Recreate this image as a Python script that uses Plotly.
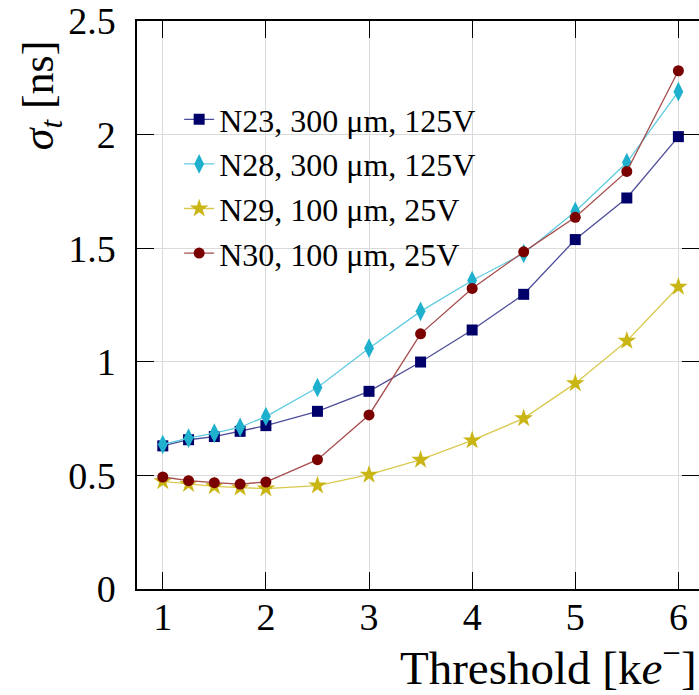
import plotly.graph_objects as go

thresholds = [1, 1.25, 1.5, 1.75, 2, 2.5, 3, 3.5, 4, 4.5, 5, 5.5, 6]
n23 = [0.630, 0.657, 0.671, 0.694, 0.719, 0.782, 0.870, 0.999, 1.140, 1.297, 1.538, 1.721, 1.991]
n28 = [0.636, 0.664, 0.686, 0.712, 0.759, 0.887, 1.060, 1.222, 1.358, 1.477, 1.662, 1.877, 2.189]
n29 = [0.474, 0.462, 0.452, 0.446, 0.442, 0.455, 0.503, 0.569, 0.654, 0.751, 0.905, 1.092, 1.330]
n30 = [0.493, 0.477, 0.468, 0.462, 0.471, 0.569, 0.766, 1.123, 1.323, 1.484, 1.636, 1.838, 2.281]

names = ["N23, 300 μm, 125V", "N28, 300 μm, 125V", "N29, 100 μm, 25V", "N30, 100 μm, 25V"]
series = [n23, n28, n29, n30]
marker_colors = ["#00006b", "#1eb0cc", "#c9b514", "#7a0000"]
line_colors = ["#4d4d99", "#5fcbe0", "#d9c94f", "#a64d4d"]
symbols = ["square", "diamond-tall", "star", "circle"]
sizes = [11, 14, 14, 11]

FONT = "Liberation Serif"

fig = go.Figure()
for name, ys, mc, lc, sym, sz in zip(names, series, marker_colors, line_colors, symbols, sizes):
    fig.add_trace(go.Scatter(
        x=thresholds, y=ys, name=name, mode="lines+markers",
        line=dict(color=lc, width=1.3),
        marker=dict(color=mc, symbol=sym, size=sz, line=dict(width=0)),
    ))

# invisible trace on yaxis2 so right-side mirror ticks are drawn
fig.add_trace(go.Scatter(x=[thresholds[0]], y=[n23[0]], yaxis="y2", mode="markers",
                         marker=dict(opacity=0), showlegend=False, hoverinfo="skip"))

fig.update_layout(
    width=699, height=695,
    margin=dict(l=137, r=0, t=19, b=106),
    paper_bgcolor="white", plot_bgcolor="white",
    font=dict(family=FONT, color="black"),
    showlegend=True,
    legend=dict(x=0.075, y=0.875, xanchor="left", yanchor="top",
                bgcolor="rgba(0,0,0,0)", borderwidth=0,
                font=dict(family=FONT, size=32), itemwidth=30,
                tracegroupgap=0),
    xaxis=dict(range=[0.75, 6.2], tickvals=[1, 2, 3, 4, 5, 6],
               ticks="inside", ticklen=17, tickwidth=1.3, tickcolor="black",
               showline=True, linecolor="black", linewidth=1.5, mirror="ticks",
               showgrid=True, gridcolor="#dadada", gridwidth=1, zeroline=False,
               tickfont=dict(family=FONT, size=38), ticklabelstandoff=-6),
    yaxis=dict(range=[0, 2.5], tickvals=[0, 0.5, 1, 1.5, 2, 2.5],
               ticktext=["0", "0.5", "1", "1.5", "2", "2.5"],
               ticks="inside", ticklen=17, tickwidth=1.3, tickcolor="black",
               showline=True, linecolor="black", linewidth=1.5,
               showgrid=True, gridcolor="#dadada", gridwidth=1, zeroline=False,
               tickfont=dict(family=FONT, size=38), ticklabelstandoff=12,
               ticklabeloverflow="allow"),
    yaxis2=dict(range=[0, 2.5], overlaying="y", side="right",
                tickvals=[0, 0.5, 1, 1.5, 2, 2.5], showticklabels=False,
                ticks="inside", ticklen=17, tickwidth=1.3, tickcolor="black",
                showline=False, showgrid=False, zeroline=False),
)

fig.add_annotation(text="<i>σ</i><sub><i>t</i></sub> [ns]", xref="paper", yref="paper",
                   x=-0.17, y=0.87, xanchor="center", yanchor="middle", textangle=-90,
                   showarrow=False, font=dict(family=FONT, size=44))
fig.add_annotation(text="Threshold [k<i>e</i><sup>−</sup>]", xref="paper", yref="paper",
                   x=1.0, y=-0.133, xanchor="right", yanchor="middle",
                   showarrow=False, font=dict(family=FONT, size=47))

fig.write_html("out.html")
